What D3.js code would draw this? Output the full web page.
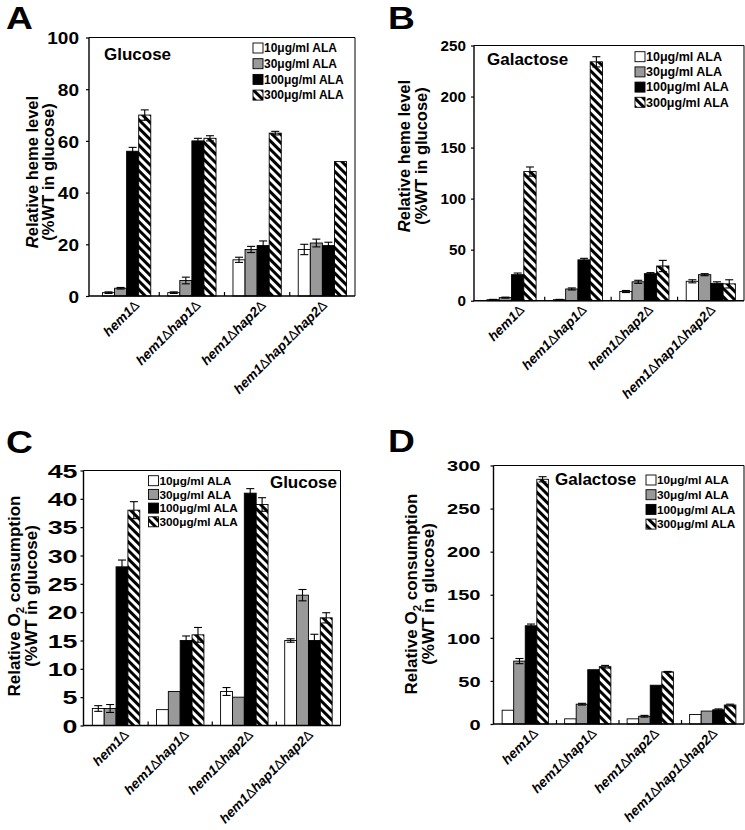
<!DOCTYPE html>
<html><head><meta charset="utf-8">
<script src="https://cdn.jsdelivr.net/npm/d3@7"></script>
<style>body{margin:0;background:#fff} svg{display:block}</style>
</head><body><svg id="c" width="745" height="830"></svg>
<script>
// ---------- data ----------
const strains = ["hem1Δ", "hem1Δhap1Δ", "hem1Δhap2Δ", "hem1Δhap1Δhap2Δ"];
const doses = ["10μg/ml ALA", "30μg/ml ALA", "100μg/ml ALA", "300μg/ml ALA"];

// A: relative heme level, glucose (rows = doses, cols = strains)
const hemeGlucose    = [[1.3, 1.3, 14, 18], [3, 6, 18, 20.5], [56, 60, 19.5, 19.5], [70, 61, 63, 52]];
const hemeGlucoseErr = [[0.3, 0.3, 1, 2], [0.3, 1.3, 1.2, 1.5], [1.5, 1, 1.8, 1.3], [2, 1, 0.7, 0]];
// B: relative heme level, galactose
const hemeGalactose    = [[1, 1, 9, 19], [3, 11.5, 18.5, 25.5], [25.5, 40, 26.5, 17], [126.5, 234, 34, 16.5]];
const hemeGalactoseErr = [[0.3, 0.3, 1, 1.5], [0.5, 1, 1.5, 1], [1.6, 1.5, 1, 1.5], [4.5, 5, 5.5, 4]];
// C: relative O2 consumption, glucose
const o2Glucose    = [[3, 2.8, 6, 15], [3, 6, 5, 23], [28, 15, 41, 15], [38, 16, 39, 19]];
const o2GlucoseErr = [[0.5, 0, 0.7, 0.3], [0.7, 0, 0, 1], [1.2, 0.8, 0.8, 1.1], [1.5, 1.3, 1.2, 0.9]];
// D: relative O2 consumption, galactose
const o2Galactose    = [[16, 6, 6, 11], [73, 23, 9, 15], [114, 63, 45, 16.5], [284, 66.5, 60.5, 22]];
const o2GalactoseErr = [[0, 0, 0, 0], [3, 1, 1, 0], [2, 0, 0, 1], [3, 1.5, 0.5, 1]];

const ticksA = [0, 20, 40, 60, 80, 100];
const ticksB = [0, 50, 100, 150, 200, 250];
const ticksC = [0, 5, 10, 15, 20, 25, 30, 35, 40, 45];
const ticksD = [0, 50, 100, 150, 200, 250, 300];

const panelLetters = ["A", "B", "C", "D"];
const conditions = ["Glucose", "Galactose", "Glucose", "Galactose"];
const yTitleHeme = ["Relative heme level", "(%WT in glucose)"];
const yTitleO2 = ["Relative O", "2", " consumption", "(%WT in glucose)"];

// ---------- drawing ----------
const FONT = "'Liberation Sans', Arial, Helvetica, sans-serif";
const svg = d3.select("#c").style("font-family", FONT);
const fills = ["#ffffff", "#999999", "#000000", "url(#hatch)"];

const defs = svg.append("defs");
const pat = defs.append("pattern").attr("id", "hatch")
  .attr("patternUnits", "userSpaceOnUse").attr("width", 6).attr("height", 6)
  .attr("patternTransform", "rotate(-45)");
pat.append("rect").attr("width", 6).attr("height", 6).attr("fill", "#fff");
pat.append("rect").attr("width", 3).attr("height", 6).attr("fill", "#000");

function panel(cfg, vals, errs, ticks) {
  const g = svg.append("g");
  const x = d3.scaleBand().domain(strains).range(cfg.band);
  const y = d3.scaleLinear().domain([0, ticks[ticks.length - 1]]).range(cfg.yr);
  const y0 = cfg.yr[0], y1 = cfg.yr[1];
  const bw = x.bandwidth() * 0.185;

  // bars
  doses.forEach((d, di) => {
    strains.forEach((s, si) => {
      const v = vals[di][si], e = errs[di][si];
      const bx = x(s) + x.bandwidth() / 2 - 2 * bw + di * bw;
      g.append("rect").attr("x", bx).attr("y", y(v)).attr("width", bw)
        .attr("height", y(0) - y(v)).attr("fill", fills[di])
        .attr("stroke", "#000").attr("stroke-width", 0.9);
      if (e > 0) {
        const cx = bx + bw / 2, cw = 4;
        const eg = g.append("g").attr("stroke", "#000").attr("stroke-width", 1.1);
        eg.append("line").attr("x1", cx).attr("x2", cx).attr("y1", y(v + e)).attr("y2", y(Math.max(0, v - e)));
        eg.append("line").attr("x1", cx - cw).attr("x2", cx + cw).attr("y1", y(v + e)).attr("y2", y(v + e));
        eg.append("line").attr("x1", cx - cw).attr("x2", cx + cw).attr("y1", y(Math.max(0, v - e))).attr("y2", y(Math.max(0, v - e)));
      }
    });
  });

  // frame
  g.append("path").attr("d", `M${cfg.axisX},${y1}H${cfg.band[1]}V${y0}`)
    .attr("fill", "none").attr("stroke", "#000").attr("stroke-width", 1);
  g.append("path").attr("d", `M${cfg.axisX},${y1}V${y0}H${cfg.band[1]}`)
    .attr("fill", "none").attr("stroke", "#000").attr("stroke-width", 1.4);
  // category ticks (inside)
  strains.slice(1).forEach(s => {
    g.append("line").attr("x1", x(s)).attr("x2", x(s)).attr("y1", y0).attr("y2", y0 - 4)
      .attr("stroke", "#000").attr("stroke-width", 1.2);
  });

  // y axis
  const ax = g.append("g").attr("transform", `translate(${cfg.axisX},0)`)
    .call(d3.axisLeft(y).tickValues(ticks).tickSize(3).tickSizeOuter(0));
  ax.select(".domain").remove();
  ax.selectAll("line").attr("stroke-width", 1.2);
  ax.selectAll("text")
    .attr("x", -cfg.gap).attr("dy", "0.36em")
    .attr("font-family", FONT).attr("font-weight", "bold").attr("font-size", cfg.tickFs)
    .attr("transform", `translate(${-cfg.gap},0) scale(${cfg.sx},1) translate(${cfg.gap},0)`);

  // x labels
  strains.forEach(s => {
    const t = g.append("text").attr("text-anchor", "end")
      .attr("font-weight", "bold").attr("font-style", "italic").attr("font-size", 13.5);
    const parts = s.split("Δ");
    parts.forEach((p, i) => {
      if (p) t.append("tspan").text(p);
      if (i < parts.length - 1) t.append("tspan").attr("font-weight", "normal").attr("font-style", "normal").text("Δ");
    });
    const len = t.node().getComputedTextLength();
    const dx = 18 - 0.1 * len;
    t.attr("transform", `translate(${x(s) + x.bandwidth() / 2 + dx},${y0 + 10}) rotate(-45)`);
  });

  // y title
  const tf = cfg.titleFs;
  const l1 = g.append("text").attr("text-anchor", "middle").attr("font-weight", "bold").attr("font-size", tf)
    .attr("transform", `translate(${cfg.tx1},${cfg.tcy}) rotate(-90)`);
  if (cfg.o2) {
    l1.append("tspan").text(yTitleO2[0]);
    l1.append("tspan").attr("font-size", tf * 0.68).attr("dy", 4).text(yTitleO2[1]);
    l1.append("tspan").attr("dy", -4).text(yTitleO2[2]);
  } else {
    l1.append("tspan").attr("font-style", "italic").text(yTitleHeme[0][0]);
    l1.append("tspan").text(yTitleHeme[0].slice(1));
  }
  g.append("text").attr("text-anchor", "middle").attr("font-weight", "bold").attr("font-size", tf)
    .attr("transform", `translate(${cfg.tx2},${cfg.tcy}) rotate(-90)`)
    .text(cfg.o2 ? yTitleO2[3] : yTitleHeme[1]);

  // panel letter
  g.append("text").attr("font-weight", "bold").attr("font-size", 31)
    .attr("transform", `translate(${cfg.lx},${cfg.ly}) scale(1.2,1)`).text(cfg.letter);

  // condition label
  g.append("text").attr("x", cfg.cx).attr("y", cfg.cy).attr("text-anchor", cfg.canchor)
    .attr("font-weight", "bold").attr("font-size", 17).text(cfg.cond);

  // legend
  doses.forEach((d, i) => {
    const ry = cfg.legY + i * cfg.legDy;
    g.append("rect").attr("x", cfg.legX).attr("y", ry - 5).attr("width", 10).attr("height", 10)
      .attr("fill", fills[i]).attr("stroke", "#000").attr("stroke-width", 0.9);
    g.append("text").attr("x", cfg.legX + 11).attr("y", ry + 4.3)
      .attr("font-weight", "bold").attr("font-size", cfg.legFs).text(d);
  });
}

panel({letter: panelLetters[0], lx: 6, ly: 29, axisX: 89, band: [94, 355], yr: [296, 37.5],
  tickFs: 17, sx: 1.12, gap: 10, titleFs: 16.5, tx1: 38, tx2: 54, tcy: 172,
  cond: conditions[0], cx: 104, cy: 60, canchor: "start",
  legX: 253, legY: 48, legDy: 15.7, legFs: 12}, hemeGlucose, hemeGlucoseErr, ticksA);

panel({letter: panelLetters[1], lx: 388, ly: 29, axisX: 474, band: [478.3, 744], yr: [300.7, 45.5],
  tickFs: 14.5, sx: 1.05, gap: 8, titleFs: 16.5, tx1: 410, tx2: 427, tcy: 156,
  cond: conditions[1], cx: 487, cy: 65, canchor: "start",
  legX: 635, legY: 56.7, legDy: 15.2, legFs: 12.5}, hemeGalactose, hemeGalactoseErr, ticksB);

panel({letter: panelLetters[2], lx: 6, ly: 453, axisX: 83.5, band: [84, 340.5], yr: [725.5, 470.5],
  tickFs: 18.5, sx: 1.45, gap: 6, titleFs: 17, tx1: 20, tx2: 37, tcy: 596, o2: true,
  cond: conditions[2], cx: 337, cy: 488, canchor: "end",
  legX: 148.5, legY: 480.7, legDy: 13.7, legFs: 11.8}, o2Glucose, o2GlucoseErr, ticksC);

panel({letter: panelLetters[3], lx: 388, ly: 452, axisX: 493.5, band: [494, 744], yr: [724, 465.5],
  tickFs: 14.5, sx: 1.38, gap: 13, titleFs: 17, tx1: 417, tx2: 434, tcy: 594, o2: true,
  cond: conditions[3], cx: 555, cy: 485, canchor: "start",
  legX: 646, legY: 480, legDy: 14.7, legFs: 11.8}, o2Galactose, o2GalactoseErr, ticksD);
</script></body></html>
